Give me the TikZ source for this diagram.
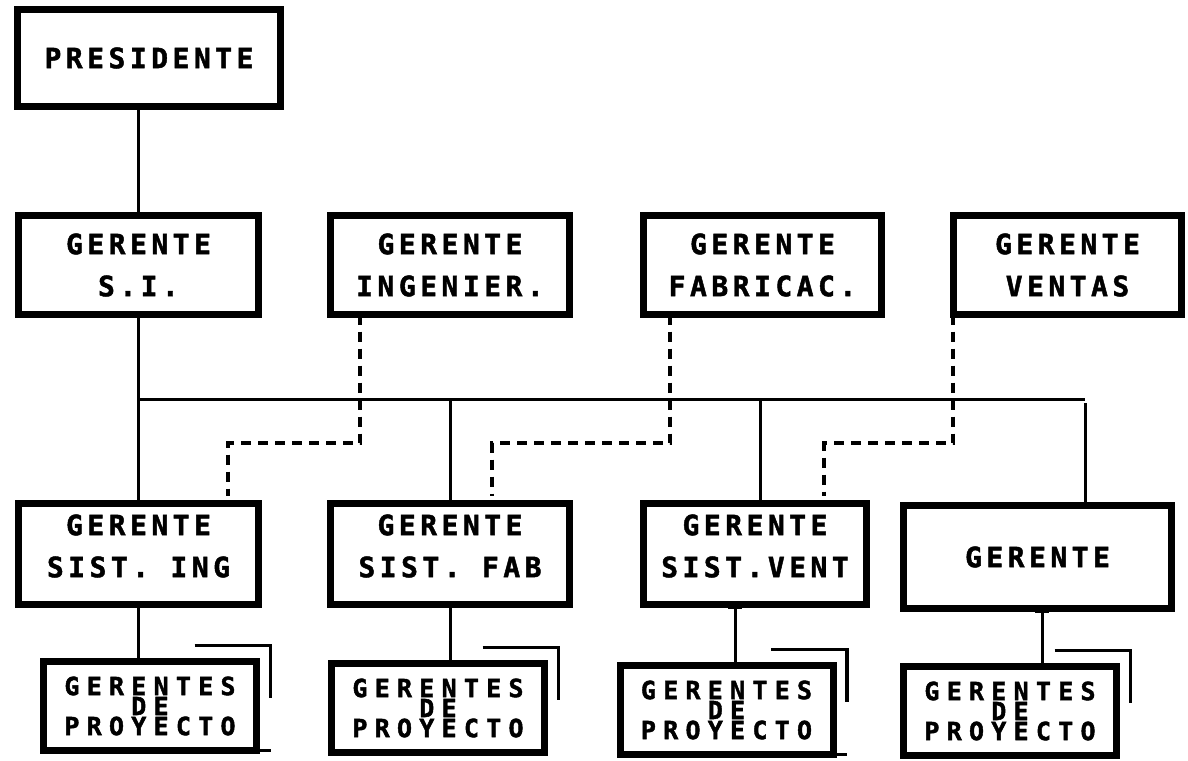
\documentclass[tikz,border=0pt]{standalone}
\usepackage{fontspec}
\newfontfamily\gf{DejaVu Sans Mono}[LetterSpace=16,FakeBold=1.6]
\newfontfamily\gfs{DejaVu Sans Mono}[LetterSpace=29,FakeBold=1.6]
\usetikzlibrary{calc}
\tikzset{
  box/.style={draw, line width=7pt, inner sep=0pt, outer sep=0pt, align=center,
    font=\gf\bfseries\fontsize{28}{42}\selectfont},
  lbl/.style={inner sep=0pt, align=center, font=\gf\bfseries\fontsize{28}{42}\selectfont},
  pbox/.style={box, font=\gfs\bfseries\fontsize{25}{20}\selectfont,
    minimum width=213pt, minimum height=89pt},
  conn/.style={line width=3pt},
  dconn/.style={line width=4pt, dash pattern=on 10pt off 7pt},
  back/.style={line width=3.5pt}
}
\begin{document}
\begin{tikzpicture}[x=1pt, y=-1pt]
\useasboundingbox (0,0) rectangle (1188,760);
% top
\node[box, minimum width=263pt, minimum height=96pt] (pres) at (149,58) {PRESIDENTE};
% row 2
\node[box, minimum width=240pt, minimum height=99pt] (si)  at (138.5,265) {GERENTE\\S.I.};
\node[box, minimum width=239pt, minimum height=99pt] (ing) at (450,265) {GERENTE\\INGENIER.};
\node[box, minimum width=238pt, minimum height=99pt] (fab) at (762.5,265) {GERENTE\\FABRICAC.};
\node[box, minimum width=228pt, minimum height=99pt] (ven) at (1067.5,265) {GERENTE\\VENTAS};
% row 3
\node[box, minimum width=240pt, minimum height=101pt,
  label={[lbl, yshift=8pt]center:GERENTE\\SIST. ING}] (ssi) at (138.5,554) {};
\node[box, minimum width=239pt, minimum height=101pt,
  label={[lbl, yshift=8pt]center:GERENTE\\SIST. FAB}] (sfa) at (450,554) {};
\node[box, minimum width=223pt, minimum height=101pt,
  label={[lbl, yshift=8pt]center:GERENTE\\SIST.VENT}] (sve) at (755,554) {};
\node[box, minimum width=268pt, minimum height=103pt] (g4)  at (1037.5,557) {GERENTE};
% row 4
\node[pbox] (p1) at (150,706) {GERENTES\\DE\\PROYECTO};
\node[pbox] (p2) at (438,708) {GERENTES\\DE\\PROYECTO};
\node[pbox] (p3) at (726.5,710) {GERENTES\\DE\\PROYECTO};
\node[pbox] (p4) at (1010,711) {GERENTES\\DE\\PROYECTO};
% back sheets
\foreach \p in {p1,p2,p3,p4}{
  \draw[back] ($(\p.north east)+(-62,-16)$) -- ($(\p.north east)+(14,-16)$) -- ($(\p.north east)+(14,36)$);
}
\draw[back] (p1.south east) -- ($(p1.south east)+(14,0)$);
\draw[back] (p3.south east) -- ($(p3.south east)+(14,0)$);
% solid connectors
\draw[conn] (pres.south -| si.north) -- (si.north);
\coordinate (bus) at ($(si.south)+(0,85)$);
\draw[conn] (si.south) -- (bus);
\coordinate (busR) at (1085,403);
\draw[conn] (bus) -- (bus -| busR);
\draw[conn] (bus) -- (ssi.north);
\draw[conn] (bus -| sfa.north) -- (sfa.north);
\coordinate (d3) at ($(sve.north)+(5,0)$);
\draw[conn] (d3 |- bus) -- (d3);
\draw[conn] (busR) -- (busR |- g4.north);
% to project managers
\draw[conn] (ssi.south) -- (ssi.south |- p1.north);
\draw[conn] (sfa.south) -- (sfa.south |- p2.north);
\coordinate (s3) at ($(sve.south)+(-20,0)$);
\draw[conn] (s3) -- (s3 |- p3.north);
\draw[conn] ($(s3)+(-7,3)$) -- ($(s3)+(7,3)$);
\coordinate (s4) at ($(g4.south)+(4.5,0)$);
\draw[conn] (s4) -- (s4 |- p4.north);
\draw[conn] ($(s4)+(-7,3)$) -- ($(s4)+(7,3)$);
% dashed functional links
\coordinate (dy) at (0,443);
\coordinate (a1) at ($(ing.south)+(-90,0)$);
\coordinate (b1) at ($(ssi.north)+(89.5,-8)$);
\draw[dconn] (a1) -- (a1 |- dy) -- (b1 |- dy) -- (b1);
\coordinate (a2) at ($(fab.south)+(-92.5,0)$);
\coordinate (b2) at ($(sfa.north)+(42,-8)$);
\draw[dconn] (a2) -- (a2 |- dy) -- (b2 |- dy) -- (b2);
\coordinate (a3) at ($(ven.south)+(-114.5,0)$);
\coordinate (b3) at ($(sve.north)+(69,-8)$);
\draw[dconn] (a3) -- (a3 |- dy) -- (b3 |- dy) -- (b3);
\end{tikzpicture}
\end{document}
